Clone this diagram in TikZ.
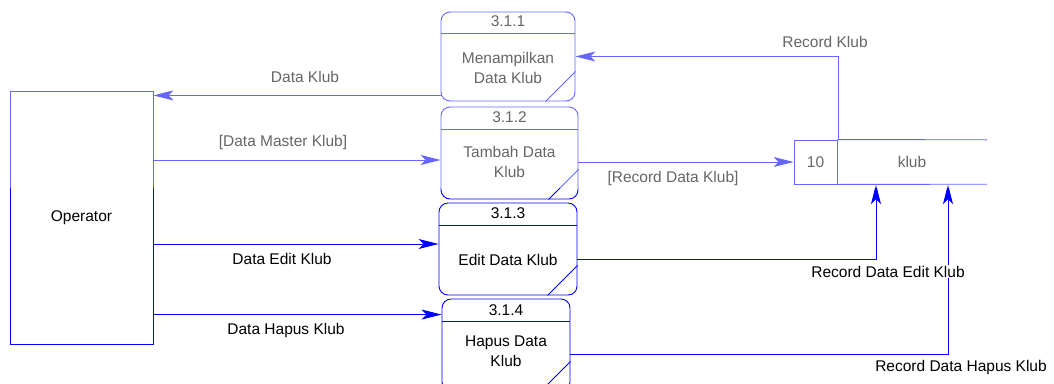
\documentclass[tikz,border=0pt]{standalone}
\usepackage{fontspec}
\setmainfont{Liberation Sans}
\usetikzlibrary{arrows.meta}
\definecolor{biru}{RGB}{0,0,255}
\tikzset{
  garis/.style={draw=biru, line width=0.9pt},
  panah/.style={garis, -{Stealth[length=20pt,width=10pt,inset=5pt]}},
  teks/.style={font=\fontsize{15.5}{19.5}\selectfont, text=black, inner sep=1pt},
  proses/.style={garis, rounded corners=9pt, minimum width=#1, minimum height=92pt, inner sep=0pt},
  entitas/.style={garis, minimum width=143pt, minimum height=253pt, inner sep=0pt},
}
\begin{document}
\begin{tikzpicture}[x=1pt, y=-1pt] % 以像素为单位
% 画布范围
\clip (0,0) rectangle (1054,383);
% 外部实体 Operator
\node[entitas, teks] (op) at (81.5,217.5) {Operator};
% 过程 3.1.1
\node[proses=134pt, minimum height=89pt] (p1) at (508,56.5) {};
\draw[garis] ([yshift=-22pt]p1.north west) -- ([yshift=-22pt]p1.north east);
\draw[garis] ([xshift=-30pt]p1.south east) -- ([yshift=30pt]p1.south east);
\node[teks] (t1) at (508,21) {3.1.1};
\node[teks, align=center] (n1) at (508,68) {Menampilkan\\Data Klub};
% 过程 3.1.2
\node[proses=137pt] (p2) at (509.5,153) {};
\draw[garis] ([yshift=-23pt]p2.north west) -- ([yshift=-23pt]p2.north east);
\draw[garis] ([xshift=-30pt]p2.south east) -- ([yshift=30pt]p2.south east);
\node[teks] (t2) at (509.5,117.5) {3.1.2};
\node[teks, align=center] (n2) at (509.5,162) {Tambah Data\\Klub};
% 过程 3.1.3
\node[proses=138pt] (p3) at (508,249) {};
\draw[garis] ([yshift=-23pt]p3.north west) -- ([yshift=-23pt]p3.north east);
\draw[garis] ([xshift=-30pt]p3.south east) -- ([yshift=30pt]p3.south east);
\node[teks] (t3) at (508,213) {3.1.3};
\node[teks] (n3) at (508,260) {Edit Data Klub};
% 过程 3.1.4(下半部分超出画布)
\node[proses=128pt] (p4) at (506,345) {};
\draw[garis] ([yshift=-23pt]p4.north west) -- ([yshift=-23pt]p4.north east);
\draw[garis] ([xshift=-30pt]p4.south east) -- ([yshift=30pt]p4.south east);
\node[teks] (t4) at (506,310) {3.1.4};
\node[teks, align=center] (n4) at (506,351) {Hapus Data\\Klub};
% 数据存储 klub
\node[teks, garis, minimum width=43pt, minimum height=44pt] (d10) at (815.5,162) {10};
\node[teks, minimum width=150pt, minimum height=44pt] (klub) at (912,162) {klub};
\draw[garis] (d10.north east) -- (klub.north east);
\draw[garis] (d10.south east) -- (klub.south east);
% 数据流
\draw[panah] ([xshift=2pt]klub.north west) |- (p1.east); % Record Klub
\coordinate (dk) at ([yshift=6pt]p1.south west);
\draw[panah] (dk) -- (dk -| op.east); % Data Klub
\coordinate (dm) at ([yshift=-7pt]p2.west);
\draw[panah] (dm -| op.east) -- (dm); % [Data Master Klub]
\coordinate (de) at ([yshift=5pt]p3.west);
\draw[panah] (de -| op.east) -- (de); % Data Edit Klub
\coordinate (dh) at ([yshift=-16pt]p4.north west);
\draw[panah] (dh -| op.east) -- (dh); % Data Hapus Klub
\draw[panah] (d10.west -| p2.east) -- (d10.west); % [Record Data Klub]
\coordinate (re) at ([yshift=-10pt]p3.east);
\draw[panah] (re) -| ([xshift=-36pt]klub.south); % Record Data Edit Klub
\coordinate (rh) at ([yshift=-9pt]p4.east);
\draw[panah] (rh) -| ([xshift=36pt]klub.south); % Record Data Hapus Klub
% 标注
\node[teks] (lrk) at (825,42) {Record Klub};
\node[teks] (ldk) at (305,77) {Data Klub};
\node[teks] (ldm) at (283,142) {[Data Master Klub]};
\node[teks] (lde) at (282,259) {Data Edit Klub};
\node[teks] (ldh) at (286,330.5) {Data Hapus Klub};
\node[teks] (lrd) at (673,178) {[Record Data Klub]};
\node[teks, fill=white] (lre) at (888,271.5) {Record Data Edit Klub};
\node[teks] (lrh) at (961,367) {Record Data Hapus Klub};
% 上半部分水印造成的淡色
\fill[white, fill opacity=0.4] (0,0) rectangle (1054,188);
\end{tikzpicture}
\end{document}
